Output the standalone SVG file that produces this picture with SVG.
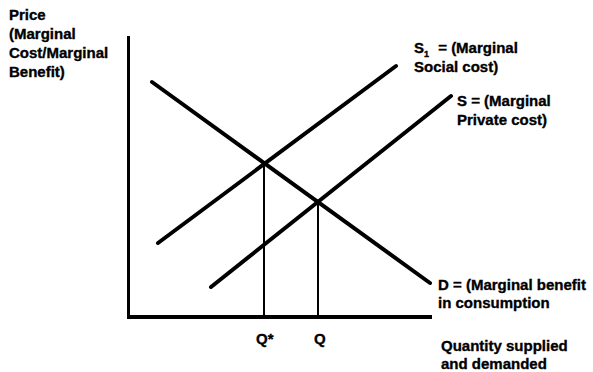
<svg xmlns="http://www.w3.org/2000/svg" width="593" height="372" viewBox="0 0 593 372">
<style>
text{font-family:"Liberation Sans",Arial,sans-serif;font-weight:bold;font-size:15px;fill:#000;stroke:#000;stroke-width:0.35}
.ln{stroke:#000;stroke-width:4;stroke-linecap:round;fill:none}
.ax{stroke:#000;fill:none}
.vl{stroke:#000;stroke-width:2;fill:none}
</style>
<rect width="593" height="372" fill="#fff"/>
<g id="axes">
<line class="ax" x1="128.5" y1="36" x2="128.5" y2="317" stroke-width="3"/>
<line class="ax" x1="127" y1="317" x2="432" y2="317" stroke-width="4"/>
</g>
<g id="connectors">
<line class="ln" x1="152" y1="82" x2="430" y2="283"/>
<line class="ln" x1="158" y1="243" x2="396" y2="66"/>
<line class="ln" x1="211" y1="287" x2="451" y2="96"/>
<line class="vl" x1="264" y1="164" x2="264" y2="317"/>
<line class="vl" x1="318" y1="202" x2="318" y2="317"/>
</g>
<g id="ylabel">
<text x="9" y="20">Price</text>
<text x="9" y="39">(Marginal</text>
<text x="9" y="58">Cost/Marginal</text>
<text x="9" y="77">Benefit)</text>
</g>
<g id="s1label">
<text x="414" y="53">S<tspan font-size="9" dy="4">1</tspan><tspan dy="-4" dx="5"> = (Marginal</tspan></text>
<text x="414" y="72">Social cost)</text>
</g>
<g id="slabel">
<text x="457" y="106">S = (Marginal</text>
<text x="457" y="125">Private cost)</text>
</g>
<g id="dlabel">
<text x="438" y="290">D = (Marginal benefit</text>
<text x="438" y="308">in consumption</text>
</g>
<g id="xlabel">
<text x="441" y="351">Quantity supplied</text>
<text x="441" y="369">and demanded</text>
</g>
<g id="qlabels">
<text x="256" y="344">Q*</text>
<text x="314" y="344">Q</text>
</g>
</svg>
